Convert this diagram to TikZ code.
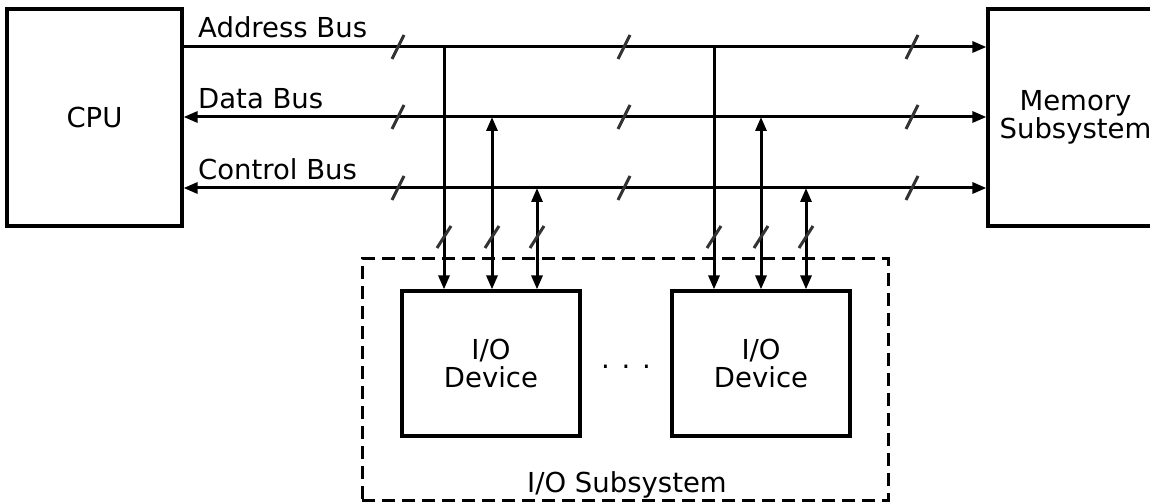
\documentclass[tikz,border=0pt]{standalone}
\usepackage{fontspec}
\setmainfont{DejaVu Sans}
\usetikzlibrary{arrows.meta}
\begin{document}
\begin{tikzpicture}[x=1pt,y=-1pt,
  font=\fontsize{27.5}{28}\selectfont,
  box/.style={draw,line width=3.2pt,inner sep=0pt,align=center},
  bus/.style={line width=3pt},
  tip/.tip={Triangle[length=14pt,width=11pt]},
  slash/.style={line width=3pt,black!80},
  lbl/.style={anchor=base west,inner sep=0pt}]
\useasboundingbox (0,0) rectangle (1150,502);
\fill[white] (0,0) rectangle (1150,502);
% main boxes
\node[box,minimum width=175pt,minimum height=217pt] (cpu) at (94.5,117.5) {CPU};
\node[box,minimum width=175pt,minimum height=217pt] (mem) at (1075.5,117.5) {Memory\\Subsystem};
\node[draw,line width=3pt,dash pattern=on 13pt off 7pt,minimum width=526pt,minimum height=241pt] (iosub) at (625,379.5) {};
\node[box,minimum width=178pt,minimum height=145pt] (io1) at (491,363.5) {I/O\\Device};
\node[box,minimum width=178pt,minimum height=145pt] (io2) at (761,363.5) {I/O\\Device};
\node[anchor=base,inner sep=0pt] (dots) at (626,368) {. . .};
\node[anchor=base,inner sep=0pt] (iolbl) at (627,492) {I/O Subsystem};
% bus labels
\node[lbl] (lab) at (198,38) {Address Bus};
\node[lbl] (ldb) at (198,109) {Data Bus};
\node[lbl] (lcb) at (198,180) {Control Bus};
% buses
\draw[bus,-tip] (cpu.east |- 0,47) -- (mem.west |- 0,47);
\draw[bus,tip-tip] (cpu.east |- 0,117) -- (mem.west |- 0,117);
\draw[bus,tip-tip] (cpu.east |- 0,188) -- (mem.west |- 0,188);
% tap points
\coordinate (a1) at (444,47);
\coordinate (d1) at (492,117);
\coordinate (c1) at (537,188);
\coordinate (a2) at (714,47);
\coordinate (d2) at (761,117);
\coordinate (c2) at (806,188);
\draw[bus,-tip] (a1) -- (a1 |- io1.north);
\draw[bus,tip-tip] (d1) -- (d1 |- io1.north);
\draw[bus,tip-tip] (c1) -- (c1 |- io1.north);
\draw[bus,-tip] (a2) -- (a2 |- io2.north);
\draw[bus,tip-tip] (d2) -- (d2 |- io2.north);
\draw[bus,tip-tip] (c2) -- (c2 |- io2.north);
% slashes on buses
\foreach \x in {398,624,912}{
  \foreach \y in {47,117,188}{
    \draw[slash] (\x-6,\y+12) -- (\x+6,\y-12);
  }
}
% slashes on taps
\foreach \x in {444,492,537,714,761,806}{
  \draw[slash] (\x-7,237+11) -- (\x+7,237-11);
}
\end{tikzpicture}
\end{document}
